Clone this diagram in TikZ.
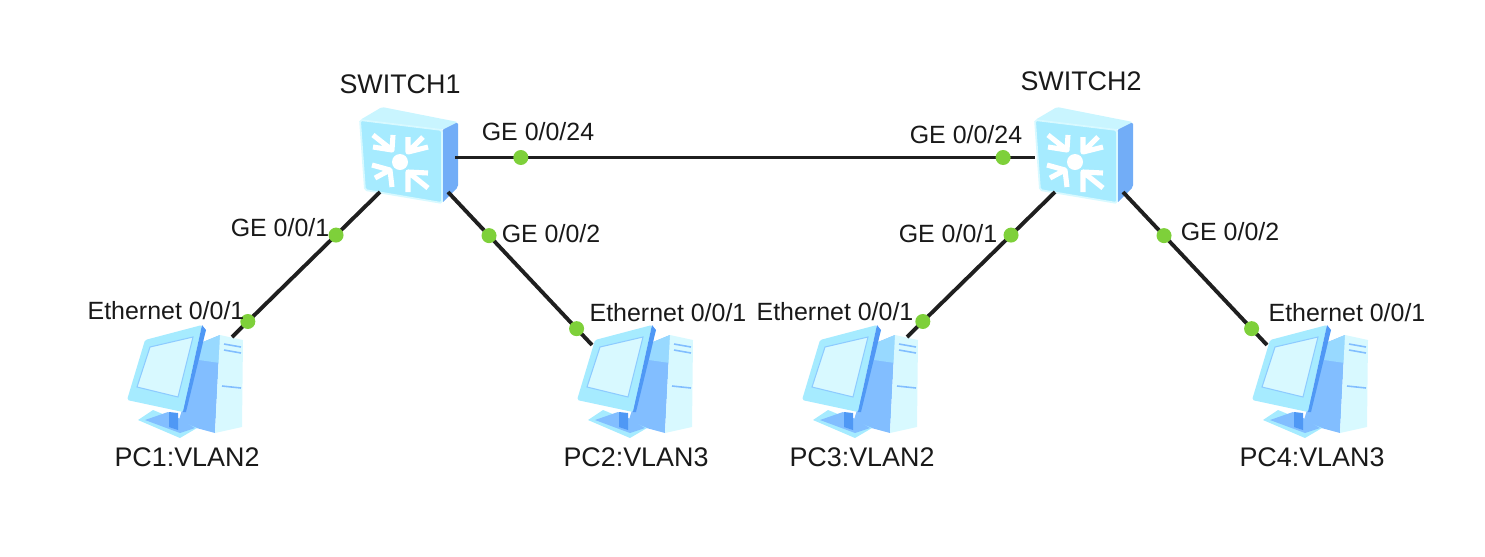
\documentclass[tikz,border=0pt]{standalone}
\usepackage{fontspec}
\setmainfont{Liberation Sans}
\definecolor{iconlight}{HTML}{A6EBFF}
\definecolor{iconpale}{HTML}{D8F9FF}
\definecolor{iconmid}{HTML}{82BEFF}
\definecolor{icondark}{HTML}{4F98F5}
\definecolor{portgreen}{HTML}{7ED03A}
\tikzset{
  link/.style={line width=2.2pt, color=black!88},
  port/.style={circle, fill=portgreen, inner sep=0pt, minimum size=0.3cm},
  portlabel/.style={font=\fontsize{14.2}{16}\selectfont, text=black!90, inner sep=0pt},
  hostlabel/.style={font=\fontsize{15.3}{17}\selectfont, text=black!90, inner sep=0pt},
  switch/.pic={
    % body
    \fill[iconpale!70!iconlight, rounded corners=1pt] (-40,-40) -- (-18,-53) -- (58,-38) -- (42,-30) -- cycle;
    \fill[icondark!80!white, rounded corners=1pt] (42,-30) -- (58,-38) -- (58,27) -- (42,43) -- cycle;
    \fill[iconlight, draw=iconpale, line width=1pt, rounded corners=1pt]
      (-40,-40) -- (42,-30) -- (42,43) -- (-35,30) -- cycle;
    % arrows
    \begin{scope}[white, line width=2.9pt, line join=round]
      \foreach \a/\b/\c/\d/\e/\f/\g/\h in {
        -27/-25/-27/-13/-8/-10/-7/-25, 23/-23/8/-23/8/-8/28/-13,
        -25/18/-28/5/-10/10/-8/27, 28/28/8/32/8/12/28/13}
        \draw (\a,\b) -- (\e,\f) (\c,\d) -- (\e,\f) -- (\g,\h);
      \fill (0,2) circle (8);
    \end{scope}
    % connector ends
    \coordinate (-sw) at (-20,32);
    \coordinate (-se) at (48,32);
    \coordinate (-w) at (55,-2.5);
    \coordinate (-e) at (-40,-2.5);
  },
  host/.pic={
    % tower
    \fill[iconmid] (18,-43) -- (35,-50) -- (30,48) -- (-7,38) -- cycle;
    \fill[iconlight!60!iconmid] (18,-43) -- (35,-50) -- (35,-22) -- (14,-25) -- cycle;
    \fill[iconpale] (35,-50) -- (58,-45) -- (57,42) -- (30,48) -- cycle;
    \draw[iconmid, line width=0.9pt] (39,-41) -- (56,-38) (39,-35) -- (56,-32) (37,1) -- (56,3);
    % stand
    \fill[iconlight] (-47,35) -- (-32,25) -- (12,43) -- (-5,53) -- cycle;
    \fill[iconmid] (-40,35) -- (-17,27) -- (10,43) -- (-5,48) -- cycle;
    \fill[icondark] (-16,27) -- (-7,28) -- (-7,45) -- (-16,42) -- cycle;
    % monitor
    \fill[iconlight, rounded corners=1pt] (-40,-45) -- (17,-60) -- (-2,27) -- (-58,15) -- cycle;
    \fill[icondark] (17,-60) -- (21,-55) -- (1,27) -- (-2,27) -- cycle;
    \fill[iconpale, draw=iconmid!70!iconlight, line width=0.6pt] (-35,-38) -- (8,-48) -- (-7,12) -- (-48,2) -- cycle;
    % connector ends
    \coordinate (-ne) at (47,-48);
    \coordinate (-nw) at (-43,-40);
  }
}
\begin{document}
\begin{tikzpicture}[x=0.02cm, y=-0.02cm]
  \useasboundingbox (0,0) rectangle (1485,556);

  % Switches
  \pic (sw1) at (400,160) {switch};
  \pic (sw2) at (1075,160) {switch};

  % Hosts
  \foreach \n/\x in {pc1/185, pc2/635, pc3/860, pc4/1310}
    \pic (\n) at (\x,385) {host};

  % Links
  \draw[link] (sw1-w) -- node[port, pos=0.1135] (p1) {} node[port, pos=0.945] (p2) {} (sw2-e);
  \draw[link] (sw1-sw) -- node[port, pos=0.297] (p3) {} node[port, pos=0.893] (p4) {} (pc1-ne);
  \draw[link] (sw1-se) -- node[port, pos=0.285] (p5) {} node[port, pos=0.893] (p6) {} (pc2-nw);
  \draw[link] (sw2-sw) -- node[port, pos=0.297] (p7) {} node[port, pos=0.893] (p8) {} (pc3-ne);
  \draw[link] (sw2-se) -- node[port, pos=0.285] (p9) {} node[port, pos=0.893] (p10) {} (pc4-nw);

  % Port labels
  \foreach \n/\x/\y/\t in {
    l1/538/132/GE 0\slash 0\slash 24, l2/966/135/GE 0\slash 0\slash 24,
    l3/280/228/GE 0\slash 0\slash 1, l4/551/234/GE 0\slash 0\slash 2,
    l5/948/234/GE 0\slash 0\slash 1, l6/1230/232/GE 0\slash 0\slash 2,
    l7/166/311/Ethernet 0\slash 0\slash 1, l8/668/313/Ethernet 0\slash 0\slash 1,
    l9/835/312/Ethernet 0\slash 0\slash 1, l10/1347/313/Ethernet 0\slash 0\slash 1}
    \node[portlabel] (\n) at (\x,\y) {\t};

  % Names
  \foreach \n/\x/\y/\t in {
    s1/400/84/SWITCH1, s2/1081/81/SWITCH2,
    h1/187/457/PC1:VLAN2, h2/636/457/PC2:VLAN3,
    h3/862/457/PC3:VLAN2, h4/1312/457/PC4:VLAN3}
    \node[hostlabel] (\n) at (\x,\y) {\t};

\end{tikzpicture}
\end{document}
